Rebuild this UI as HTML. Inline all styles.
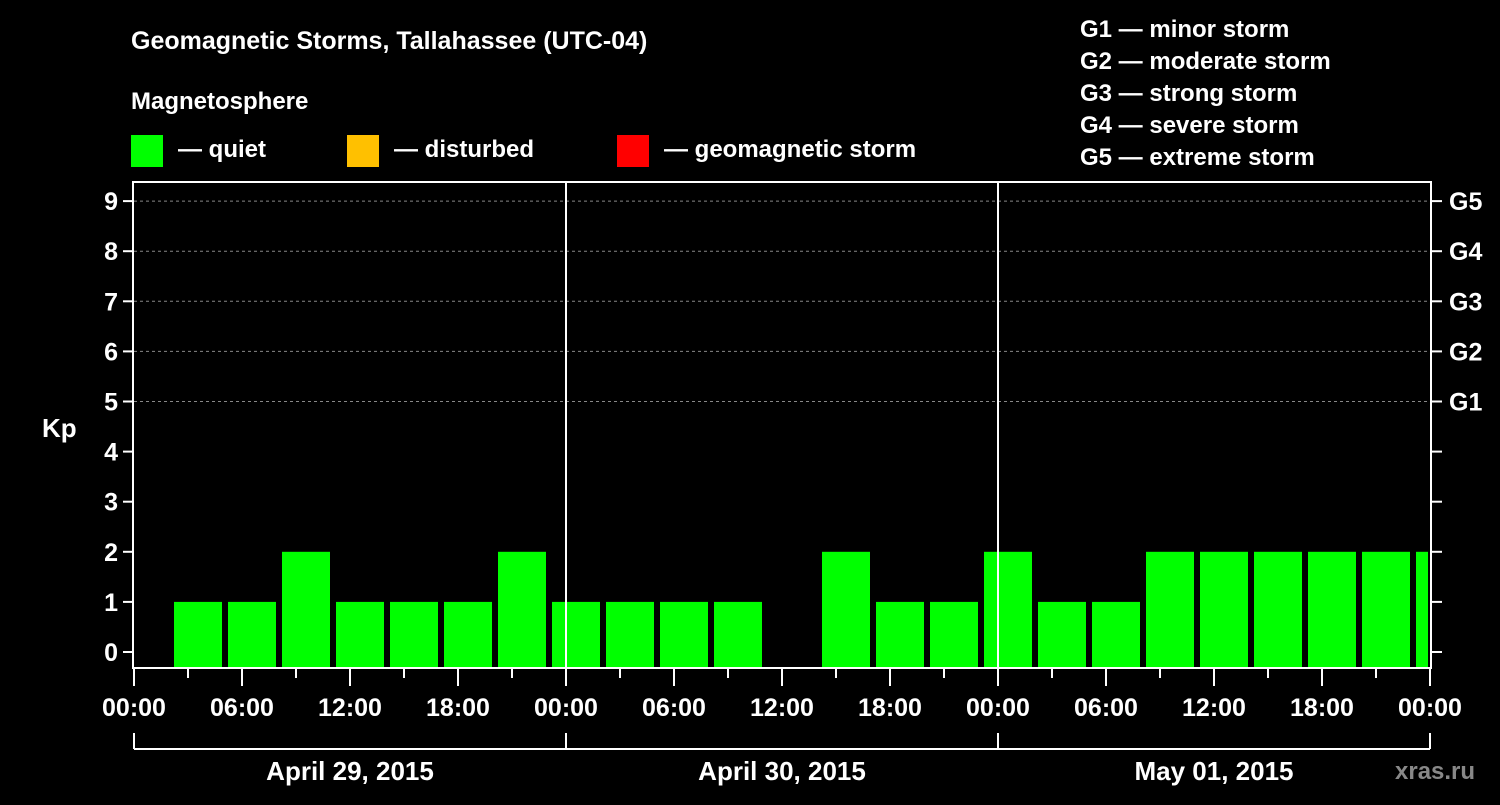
<!DOCTYPE html>
<html><head><meta charset="utf-8"><style>
body{margin:0;background:#000;width:1500px;height:800px;overflow:hidden}
svg text{font-family:"Liberation Sans",Arial,sans-serif;font-weight:bold;fill:#fff}
</style></head><body>
<svg id="c" width="1500" height="800" xmlns="http://www.w3.org/2000/svg">
<rect width="1500" height="800" fill="#000"/>
<text x="131" y="49" font-size="25">Geomagnetic Storms, Tallahassee (UTC-04)</text>
<text x="131" y="109" font-size="24">Magnetosphere</text>
<g><rect x="131" y="135" width="32" height="32" fill="#00ff00"/><text x="178" y="157" font-size="24">— quiet</text></g>
<g><rect x="347" y="135" width="32" height="32" fill="#ffc000"/><text x="394" y="157" font-size="24">— disturbed</text></g>
<g><rect x="617" y="135" width="32" height="32" fill="#ff0000"/><text x="664" y="157" font-size="24">— geomagnetic storm</text></g>
<g font-size="24">
<text x="1080" y="37">G1 — minor storm</text>
<text x="1080" y="69">G2 — moderate storm</text>
<text x="1080" y="101">G3 — strong storm</text>
<text x="1080" y="133">G4 — severe storm</text>
<text x="1080" y="165">G5 — extreme storm</text>
</g>
<text x="42" y="437" font-size="26">Kp</text>
<text x="1395" y="779" font-size="24" fill="#888" style="fill:#888">xras.ru</text>
<g id="plot"></g>
</svg>
<script>
const startHours=[2,5,8,11,14,17,20,23,26,29,32,35,38,41,44,47,50,53,56,59,62,65,68,71];
const kpValues=[1,1,2,1,1,1,2,1,1,1,1,null,2,1,1,2,1,1,2,2,2,2,2,2];
const yTicks=[0,1,2,3,4,5,6,7,8,9];
const gLabels=["G1","G2","G3","G4","G5"];
const xTickLabels=["00:00","06:00","12:00","18:00","00:00","06:00","12:00","18:00","00:00","06:00","12:00","18:00","00:00"];
const dayLabels=["April 29, 2015","April 30, 2015","May 01, 2015"];

const L=134,R=1430,T=182,B=667,NS="http://www.w3.org/2000/svg";
const x=h=>L+h*(R-L)/72;
const y=v=>652-v*50.1;
const g=document.getElementById('plot');
function mk(t,a,txt){const e=document.createElementNS(NS,t);for(const k in a)e.setAttribute(k,a[k]);if(txt!==undefined)e.textContent=txt;g.appendChild(e);return e;}
// gridlines
for(let v=5;v<=9;v++){const e=mk('line',{x1:L,x2:R,y1:y(v),y2:y(v),stroke:'#888','stroke-dasharray':'3,3','stroke-width':1});

}
// bars
startHours.forEach((h,i)=>{const v=kpValues[i];if(v===null)return;
const x0=Math.max(x(h)+4,L),x1=Math.min(x(h+3)-2,R-2);
const col=v>=5?'#ff0000':v>=4?'#ffc000':'#00ff00';
const e=mk('rect',{x:x0,y:y(v),width:x1-x0,height:B-y(v),fill:col});

});
// day separators
[24,48].forEach(h=>{const e=mk('line',{x1:x(h),x2:x(h),y1:T,y2:B,stroke:'#fff','stroke-width':2});

});
// frame
const fr=mk('rect',{x:L-1,y:T,width:R-L+2,height:B-T+1,fill:'none',stroke:'#fff','stroke-width':2});


// y ticks
yTicks.forEach(v=>{mk('line',{x1:L-11,x2:L,y1:y(v),y2:y(v),stroke:'#fff','stroke-width':2});
mk('line',{x1:R,x2:R+12,y1:y(v),y2:y(v),stroke:'#fff','stroke-width':2});
const t=mk('text',{x:L-16,y:y(v)+9,'font-size':25,'text-anchor':'end'},String(v));

});
gLabels.forEach((s,i)=>{const t=mk('text',{x:1449,y:y(5+i)+9,'font-size':25},s);

});
// x ticks
for(let h=0;h<=72;h+=3){mk('line',{x1:x(h),x2:x(h),y1:B,y2:B+(h%6===0?19:11),stroke:'#fff','stroke-width':2});}
xTickLabels.forEach((s,i)=>{const t=mk('text',{x:x(i*6),y:716,'font-size':25,'text-anchor':'middle'},s);

});
// bracket
mk('line',{x1:L,x2:R,y1:749,y2:749,stroke:'#fff','stroke-width':2});
[0,24,48,72].forEach(h=>mk('line',{x1:x(h),x2:x(h),y1:733,y2:749,stroke:'#fff','stroke-width':2}));
dayLabels.forEach((s,i)=>{const t=mk('text',{x:x(i*24+12),y:780,'font-size':26,'text-anchor':'middle'},s);

});
</script>
</body></html>
